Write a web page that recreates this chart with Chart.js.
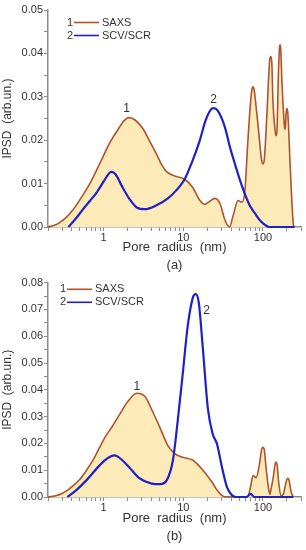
<!DOCTYPE html>
<html>
<head>
<meta charset="utf-8">
<script src="https://cdn.jsdelivr.net/npm/chart.js@4"></script>
<style>
html, body { margin: 0; padding: 0; background: #fff; }
.box { position: relative; width: 306px; height: 275px; }
</style>
</head>
<body>
<div class="box"><canvas id="chartA"></canvas></div>
<div class="box"><canvas id="chartB"></canvas></div>
<script>
/* Данные (a) */
var saxsA_r = [0.2, 0.25, 0.28, 0.34, 0.41, 0.5, 0.67, 0.82, 0.97, 1.2, 1.46, 1.75, 2.06, 2.5, 3.1, 3.8, 4.6, 5.4, 6.2, 8.0, 10.4, 13, 16, 18.5, 21, 25, 29, 33, 38, 42, 48.6, 54.5, 59.3, 64.6, 70, 72.5, 74.8, 77.5, 80, 86.5, 96, 100, 104, 112, 121, 125, 129, 133, 142, 146, 150, 156, 161, 164, 167, 173, 186, 190, 195, 200, 205, 219, 239, 245];
var saxsA_v = [0.0, 0.0005, 0.001, 0.0022, 0.0039, 0.0062, 0.010, 0.0132, 0.016, 0.0195, 0.022, 0.0242, 0.0252, 0.0246, 0.0227, 0.0197, 0.0168, 0.0142, 0.0127, 0.0117, 0.011, 0.0092, 0.0062, 0.0052, 0.0058, 0.0066, 0.0053, 0.0018, 0.0, 0.0025, 0.0061, 0.0057, 0.0084, 0.0198, 0.029, 0.0316, 0.0323, 0.0316, 0.0295, 0.0236, 0.0155, 0.0145, 0.0156, 0.026, 0.0382, 0.0393, 0.038, 0.0295, 0.0222, 0.021, 0.0225, 0.035, 0.0412, 0.042, 0.041, 0.0334, 0.0232, 0.0225, 0.0262, 0.0273, 0.0262, 0.0145, 0.001, 0.0];
var scvA_r = [0.36, 0.45, 0.54, 0.67, 0.82, 1.0, 1.19, 1.26, 1.4, 1.73, 2.1, 2.6, 3.3, 4.6, 6.4, 8.2, 10.4, 13, 16, 19, 22, 24, 27, 33, 39, 44.5, 52, 59, 68, 79, 92, 106, 120, 250];
var scvA_v = [0.0, 0.002, 0.0039, 0.006, 0.008, 0.0105, 0.0125, 0.0127, 0.0122, 0.0091, 0.0065, 0.0045, 0.0041, 0.005, 0.0066, 0.0085, 0.011, 0.0152, 0.0198, 0.0245, 0.027, 0.0274, 0.0268, 0.0232, 0.018, 0.0145, 0.0105, 0.0077, 0.005, 0.0032, 0.0015, 0.0005, 0.0, 0.0];

/* Данные (b) */
var saxsB_r = [0.2, 0.25, 0.3, 0.37, 0.5, 0.61, 0.75, 0.89, 1.05, 1.3, 1.6, 2.0, 2.6, 3.3, 4.1, 5.1, 6.4, 7.8, 9.9, 13.2, 17.6, 23.3, 27, 31, 35, 64, 70, 75, 82, 90, 96, 100, 104, 110, 118, 122, 126, 134, 142, 146, 150, 158, 168, 180, 190, 200, 206, 212, 225, 240];
var saxsB_v = [0.0, 0.0005, 0.0013, 0.003, 0.0065, 0.010, 0.0142, 0.0185, 0.0225, 0.0266, 0.031, 0.0355, 0.0387, 0.0375, 0.032, 0.0258, 0.0192, 0.0162, 0.0148, 0.0137, 0.010, 0.0052, 0.0022, 0.0004, 0.0, 0.0, 0.004, 0.008, 0.0072, 0.012, 0.0176, 0.0185, 0.0174, 0.010, 0.0028, 0.001, 0.0028, 0.007, 0.0123, 0.013, 0.0122, 0.005, 0.0005, 0.001, 0.004, 0.0066, 0.007, 0.0064, 0.002, 0.0];
var scvB_r = [0.35, 0.45, 0.61, 0.89, 1.1, 1.37, 1.7, 2.1, 2.8, 4.0, 5.1, 6.2, 7.4, 8.5, 9.9, 11.4, 13.2, 14.3, 15.6, 17.6, 20.3, 23.3, 26.4, 30.6, 35.3, 40.7, 46, 62, 70, 78, 240];
var scvB_v = [0.0, 0.0025, 0.0063, 0.0118, 0.0143, 0.0155, 0.0138, 0.011, 0.007, 0.005, 0.0048, 0.0063, 0.0137, 0.0284, 0.0469, 0.0642, 0.0745, 0.0757, 0.0727, 0.0553, 0.0332, 0.0236, 0.0199, 0.011, 0.0037, 0.0007, 0.0, 0.0, 0.0012, 0.0, 0.0];

/* Деления оси X */
var xTicks = [0.2, 0.3, 0.4, 0.5, 0.6, 0.7, 0.8, 0.9, 1, 2, 3, 4, 5, 6, 7, 8, 9, 10, 20, 30, 40, 50, 60, 70, 80, 90, 100, 200, 300];
var xLabels = [1, 10, 100];

var brown = '#B0532D';
var blue = '#2020C8';
var fillColor = '#FCEBB8';
var axisColor = '#8c8c8c';
var textColor = '#333';
var fontFamily = '"Liberation Sans", Arial, sans-serif';

function toPoints(rs, vs) {
    return rs.map(function (r, i) { return { x: r, y: vs[i] }; });
}

/* Легенда и подписи кривых */
var notes = {
    id: 'notes',
    afterDraw: function (chart) {
        var o = chart.options.plugins.notes;
        var c = chart.ctx;
        var sx = chart.scales.x, sy = chart.scales.y;
        c.save();
        c.textBaseline = 'middle';
        c.font = '11px ' + fontFamily;
        o.legend.forEach(function (it, i) {
            var ly = o.legendY + i * 13;
            c.fillStyle = textColor;
            c.textAlign = 'right';
            c.fillText(it.num, o.legendX, ly);
            c.strokeStyle = it.color;
            c.lineWidth = 1.6;
            c.beginPath();
            c.moveTo(o.legendX + 1, ly);
            c.lineTo(o.legendX + 26, ly);
            c.stroke();
            c.textAlign = 'left';
            c.fillText(it.text, o.legendX + 29, ly);
        });
        c.font = '12px ' + fontFamily;
        c.textAlign = 'center';
        c.fillStyle = textColor;
        o.marks.forEach(function (m) {
            c.fillText(m.text, sx.getPixelForValue(m.r) + m.dx, sy.getPixelForValue(m.v) + m.dy);
        });
        c.restore();
    }
};

function makeChart(id, d) {
    var ctx = document.getElementById(id).getContext('2d');
    return new Chart(ctx, {
        type: 'line',
        data: {
            datasets: [{
                label: 'SAXS',
                data: toPoints(d.saxsR, d.saxsV),
                borderColor: brown,
                borderWidth: 1.6,
                backgroundColor: fillColor,
                fill: 'origin',
                order: 2,
                clip: 6
            }, {
                label: 'SCV/SCR',
                data: toPoints(d.scvR, d.scvV),
                borderColor: blue,
                borderWidth: 2.2,
                fill: false,
                order: 1,
                clip: 6
            }]
        },
        options: {
            responsive: true,
            maintainAspectRatio: false,
            animation: false,
            layout: { padding: { left: 0, right: 5, top: d.padTop, bottom: d.padBottom } },
            elements: {
                point: { radius: 0 },
                line: { cubicInterpolationMode: 'monotone' }
            },
            plugins: {
                legend: { display: false },
                tooltip: { enabled: false },
                notes: { legendX: d.legendX, legendY: d.legendY, legend: [
                    { num: '1', text: 'SAXS', color: brown },
                    { num: '2', text: 'SCV/SCR', color: blue }
                ], marks: d.marks }
            },
            scales: {
                x: {
                    type: 'logarithmic',
                    min: 0.2,
                    max: 300,
                    border: { color: axisColor, width: 1.5 },
                    grid: { drawOnChartArea: false, color: axisColor, tickLength: 4 },
                    afterBuildTicks: function (scale) {
                        scale.ticks = xTicks.map(function (v) { return { value: v }; });
                    },
                    afterFit: function (scale) { scale.height = d.xHeight; },
                    ticks: {
                        autoSkip: false,
                        maxRotation: 0,
                        padding: 0,
                        color: textColor,
                        font: { family: fontFamily, size: 11 },
                        callback: function (v) {
                            return xLabels.indexOf(Math.round(v * 1000) / 1000) >= 0 ? String(Math.round(v)) : '';
                        }
                    },
                    title: {
                        display: true,
                        text: ['Pore  radius  (nm)', d.tag],
                        color: textColor,
                        font: { family: fontFamily, size: 13, lineHeight: 1.4 },
                        padding: { top: 0, bottom: 0 }
                    }
                },
                y: {
                    min: 0,
                    max: d.yMax,
                    border: { color: axisColor, width: 1.5 },
                    grid: { drawOnChartArea: false, color: axisColor, tickLength: 4 },
                    afterFit: function (scale) { scale.width = 48; },
                    ticks: {
                        stepSize: 0.005,
                        autoSkip: false,
                        padding: 1,
                        color: textColor,
                        font: { family: fontFamily, size: 11 },
                        callback: function (v) {
                            return Math.round(v * 1000) % 10 === 0 ? v.toFixed(2) : '';
                        }
                    },
                    title: {
                        display: true,
                        text: 'IPSD  (arb.un.)',
                        color: textColor,
                        font: { family: fontFamily, size: 12 },
                        padding: { top: 0, bottom: 0 }
                    }
                }
            }
        },
        plugins: [notes]
    });
}

makeChart('chartA', {
    saxsR: saxsA_r, saxsV: saxsA_v, scvR: scvA_r, scvV: scvA_v,
    yMax: 0.05, padTop: 10, padBottom: 0, xHeight: 48, tag: '(a)',
    legendX: 73, legendY: 22.5,
    marks: [
        { text: '1', r: 2.06, v: 0.0252, dx: -2, dy: -9 },
        { text: '2', r: 24, v: 0.0274, dx: 0, dy: -8 }
    ]
});

makeChart('chartB', {
    saxsR: saxsB_r, saxsV: saxsB_v, scvR: scvB_r, scvV: scvB_v,
    yMax: 0.08, padTop: 5, padBottom: 4, xHeight: 49, tag: '(b)',
    legendX: 66, legendY: 14.3,
    marks: [
        { text: '1', r: 2.6, v: 0.0387, dx: 0, dy: -7 },
        { text: '2', r: 14.3, v: 0.0757, dx: 11, dy: 17 }
    ]
});
</script>
</body>
</html>
